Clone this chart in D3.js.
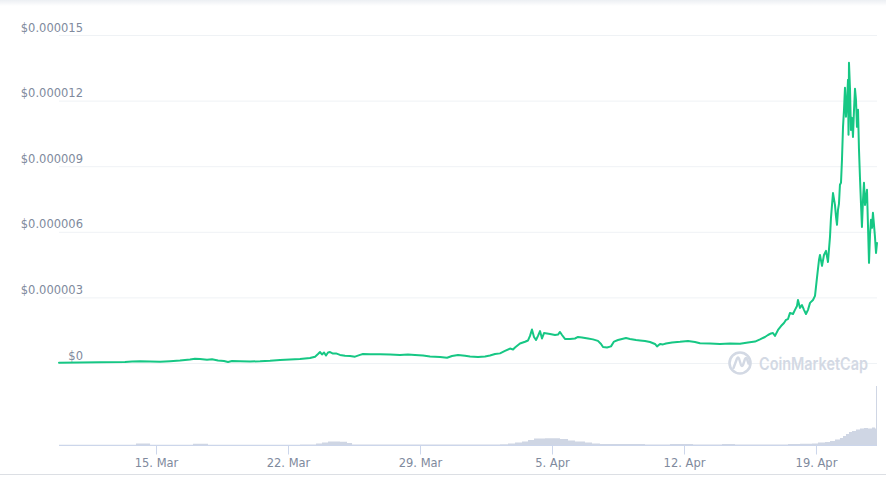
<!DOCTYPE html>
<html>
<head>
<meta charset="utf-8">
<script src="https://cdn.jsdelivr.net/npm/d3@7"></script>
<style>
  html, body { margin: 0; padding: 0; background: #ffffff; }
  svg { display: block; }
</style>
</head>
<body>
<svg id="chart" width="886" height="477"></svg>
<script>
// ---------- DATA ----------
const priceDates = [
  "2021-03-09T20:30","2021-03-10T23:00","2021-03-12T01:00","2021-03-13T08:30","2021-03-13T17:30",
  "2021-03-14T03:40","2021-03-14T16:25","2021-03-15T05:05","2021-03-15T17:50","2021-03-16T06:30",
  "2021-03-16T19:15","2021-03-17T01:35","2021-03-17T08:00","2021-03-17T16:55","2021-03-17T23:15",
  "2021-03-18T06:55","2021-03-18T14:30","2021-03-18T19:40","2021-03-19T00:40","2021-03-19T10:55",
  "2021-03-19T23:40","2021-03-20T12:25","2021-03-21T01:05","2021-03-21T13:50","2021-03-22T02:30",
  "2021-03-22T15:15","2021-03-23T04:00","2021-03-23T10:25","2021-03-23T14:10","2021-03-23T16:45",
  "2021-03-23T19:15","2021-03-23T21:50","2021-03-24T00:20","2021-03-24T02:55","2021-03-24T05:30",
  "2021-03-24T09:15","2021-03-24T13:05","2021-03-24T18:10","2021-03-25T00:30","2021-03-25T06:55",
  "2021-03-25T13:15","2021-03-25T19:40","2021-03-25T23:25","2021-03-26T08:25","2021-03-26T21:05",
  "2021-03-27T09:50","2021-03-27T22:30","2021-03-28T08:40","2021-03-28T17:35","2021-03-29T03:50",
  "2021-03-29T12:45","2021-03-30T01:30","2021-03-30T10:25","2021-03-30T16:45","2021-03-31T00:25",
  "2021-03-31T09:20","2021-03-31T15:40","2021-04-01T01:50","2021-04-01T10:45","2021-04-01T17:05",
  "2021-04-01T23:30","2021-04-02T05:50","2021-04-02T12:10","2021-04-02T18:30","2021-04-02T22:25",
  "2021-04-03T00:55","2021-04-03T07:15","2021-04-03T13:40","2021-04-03T17:30","2021-04-03T20:00",
  "2021-04-03T22:30","2021-04-04T01:05","2021-04-04T03:40","2021-04-04T06:10","2021-04-04T08:45",
  "2021-04-04T11:15","2021-04-04T13:50","2021-04-04T17:40","2021-04-04T21:30","2021-04-05T03:50",
  "2021-04-05T07:40","2021-04-05T10:10","2021-04-05T12:45","2021-04-05T16:30","2021-04-05T22:55",
  "2021-04-06T05:15","2021-04-06T09:05","2021-04-06T14:10","2021-04-06T21:50","2021-04-07T04:10",
  "2021-04-07T10:30","2021-04-07T14:25","2021-04-07T16:55","2021-04-07T22:00","2021-04-08T03:05",
  "2021-04-08T06:55","2021-04-08T12:00","2021-04-08T17:05","2021-04-08T22:10","2021-04-09T03:15",
  "2021-04-09T10:55","2021-04-09T16:00","2021-04-09T22:20","2021-04-10T04:45","2021-04-10T11:05",
  "2021-04-10T13:40","2021-04-10T17:30","2021-04-10T21:20","2021-04-11T01:05","2021-04-11T08:45",
  "2021-04-11T18:55","2021-04-12T05:05","2021-04-12T14:00","2021-04-12T20:20","2021-04-13T09:05",
  "2021-04-13T21:50","2021-04-14T10:30","2021-04-14T23:15","2021-04-15T09:30","2021-04-15T18:25",
  "2021-04-16T00:45","2021-04-16T07:05","2021-04-16T10:55","2021-04-16T14:45","2021-04-16T17:15",
  "2021-04-16T19:50","2021-04-16T23:40","2021-04-17T03:30","2021-04-17T07:15","2021-04-17T09:50",
  "2021-04-17T12:25","2021-04-17T14:55","2021-04-17T18:45","2021-04-17T21:15","2021-04-17T23:50",
  "2021-04-18T01:05","2021-04-18T03:40","2021-04-18T06:10","2021-04-18T08:45","2021-04-18T11:15",
  "2021-04-18T13:50","2021-04-18T16:25","2021-04-18T20:10","2021-04-18T22:45","2021-04-19T01:15",
  "2021-04-19T03:50","2021-04-19T05:05","2021-04-19T07:40","2021-04-19T10:10","2021-04-19T12:45",
  "2021-04-19T15:15","2021-04-19T17:50","2021-04-19T19:05","2021-04-19T20:25","2021-04-19T21:40",
  "2021-04-20T00:10","2021-04-20T01:30","2021-04-20T02:45","2021-04-20T04:00","2021-04-20T05:15",
  "2021-04-20T06:30","2021-04-20T07:50","2021-04-20T09:05","2021-04-20T10:25","2021-04-20T11:40",
  "2021-04-20T12:55","2021-04-20T14:10","2021-04-20T15:30","2021-04-20T16:45","2021-04-20T17:25",
  "2021-04-20T18:00","2021-04-20T19:20","2021-04-20T20:30","2021-04-20T21:50","2021-04-20T23:05",
  "2021-04-21T00:25","2021-04-21T01:40","2021-04-21T02:55","2021-04-21T04:10","2021-04-21T05:30",
  "2021-04-21T06:45","2021-04-21T08:00","2021-04-21T09:15","2021-04-21T10:30","2021-04-21T11:50",
  "2021-04-21T13:05","2021-04-21T14:25","2021-04-21T15:40","2021-04-21T16:55","2021-04-21T18:10",
  "2021-04-21T19:30","2021-04-21T20:45","2021-04-21T22:00","2021-04-21T23:15","2021-04-22T00:30",
  "2021-04-22T01:50","2021-04-22T03:05","2021-04-22T04:25","2021-04-22T05:40"
];
const prices = [
  0.01e-6,0.02e-6,0.03e-6,0.05e-6,0.07e-6,
  0.08e-6,0.07e-6,0.055e-6,0.08e-6,0.11e-6,
  0.16e-6,0.19e-6,0.18e-6,0.15e-6,0.17e-6,
  0.11e-6,0.09e-6,0.05e-6,0.09e-6,0.08e-6,
  0.07e-6,0.08e-6,0.10e-6,0.14e-6,0.16e-6,
  0.18e-6,0.23e-6,0.29e-6,0.41e-6,0.50e-6,
  0.39e-6,0.48e-6,0.34e-6,0.48e-6,0.50e-6,
  0.43e-6,0.44e-6,0.37e-6,0.33e-6,0.32e-6,
  0.29e-6,0.37e-6,0.41e-6,0.40e-6,0.40e-6,
  0.39e-6,0.37e-6,0.39e-6,0.37e-6,0.34e-6,
  0.30e-6,0.27e-6,0.24e-6,0.32e-6,0.37e-6,
  0.33e-6,0.30e-6,0.27e-6,0.30e-6,0.34e-6,
  0.41e-6,0.44e-6,0.55e-6,0.66e-6,0.62e-6,
  0.71e-6,0.89e-6,0.97e-6,1.03e-6,1.24e-6,
  1.53e-6,1.19e-6,1.05e-6,1.24e-6,1.46e-6,
  1.12e-6,1.37e-6,1.35e-6,1.33e-6,1.28e-6,
  1.30e-6,1.42e-6,1.28e-6,1.10e-6,1.10e-6,
  1.12e-6,1.19e-6,1.17e-6,1.12e-6,1.08e-6,
  1.01e-6,0.87e-6,0.73e-6,0.71e-6,0.76e-6,
  0.98e-6,1.05e-6,1.10e-6,1.14e-6,1.10e-6,
  1.05e-6,1.03e-6,1.01e-6,0.96e-6,0.87e-6,
  0.76e-6,0.87e-6,0.85e-6,0.89e-6,0.94e-6,
  0.97e-6,1.01e-6,0.96e-6,0.90e-6,0.89e-6,
  0.87e-6,0.89e-6,0.88e-6,0.94e-6,0.98e-6,
  1.08e-6,1.19e-6,1.28e-6,1.35e-6,1.37e-6,
  1.24e-6,1.51e-6,1.69e-6,1.83e-6,1.97e-6,
  2.01e-6,2.29e-6,2.24e-6,2.43e-6,2.61e-6,
  2.88e-6,2.52e-6,2.65e-6,2.43e-6,2.24e-6,
  2.43e-6,2.75e-6,2.88e-6,3.07e-6,3.89e-6,
  4.71e-6,4.94e-6,4.44e-6,4.94e-6,5.13e-6,
  4.62e-6,5.77e-6,6.64e-6,7.23e-6,7.77e-6,
  7.23e-6,6.68e-6,6.32e-6,7.00e-6,7.28e-6,
  8.15e-6,8.24e-6,9.29e-6,10.80e-6,11.58e-6,
  12.59e-6,11.26e-6,11.95e-6,12.95e-6,10.44e-6,
  13.73e-6,12.50e-6,10.66e-6,11.21e-6,10.34e-6,
  11.58e-6,12.54e-6,12.04e-6,10.80e-6,11.58e-6,
  9.75e-6,8.47e-6,7.32e-6,6.22e-6,7.46e-6,
  8.24e-6,7.23e-6,7.60e-6,7.92e-6,6.32e-6,
  4.58e-6,5.86e-6,6.55e-6,6.18e-6,6.87e-6,
  6.32e-6,5.77e-6,5.03e-6,5.49e-6
];

const volumeDates = [
  "2021-03-09T20:30","2021-03-13T15:00","2021-03-13T22:30","2021-03-14T16:25","2021-03-16T23:05",
  "2021-03-17T18:10","2021-03-22T15:15","2021-03-23T11:40","2021-03-23T19:15","2021-03-24T02:55",
  "2021-03-24T18:10","2021-03-25T03:05","2021-03-25T09:30","2021-04-02T05:50","2021-04-02T16:00",
  "2021-04-03T00:55","2021-04-03T09:50","2021-04-03T17:30","2021-04-04T01:05","2021-04-04T15:05",
  "2021-04-05T10:10","2021-04-05T20:25","2021-04-06T05:15","2021-04-06T18:00","2021-04-07T02:55",
  "2021-04-07T13:05","2021-04-09T22:20","2021-04-11T06:10","2021-04-12T11:30","2021-04-14T00:25",
  "2021-04-14T16:55","2021-04-17T12:25","2021-04-18T03:40","2021-04-18T18:55","2021-04-19T02:30",
  "2021-04-19T11:30","2021-04-19T17:50","2021-04-20T00:10","2021-04-20T06:30","2021-04-20T10:25",
  "2021-04-20T14:10","2021-04-20T18:00","2021-04-20T21:50","2021-04-21T02:55","2021-04-21T08:00",
  "2021-04-21T13:05","2021-04-21T18:10","2021-04-21T23:15","2021-04-22T03:05","2021-04-22T04:25",
  "2021-04-22T05:40"
];
// volume, millions USD
const volumes = [
  3,3,15,3,12,
  3,5,15,25,35,
  32,20,5,7,15,
  25,35,50,65,67,
  60,45,35,25,15,
  10,5,10,5,10,
  5,10,12,15,25,
  30,40,55,70,90,
  110,130,140,155,165,
  170,165,175,165,590,
  590
];

const yTickValues = [0, 0.000003, 0.000006, 0.000009, 0.000012, 0.000015];
const yTickLabels = ["$0", "$0.000003", "$0.000006", "$0.000009", "$0.000012", "$0.000015"];
const xTickDates = ["2021-03-15", "2021-03-22", "2021-03-29", "2021-04-05", "2021-04-12", "2021-04-19"];
const xTickLabels = ["15. Mar", "22. Mar", "29. Mar", "5. Apr", "12. Apr", "19. Apr"];
const watermarkText = "CoinMarketCap";

// ---------- CHART ----------
const parse = d3.timeParse("%Y-%m-%dT%H:%M");
const parseDay = d3.timeParse("%Y-%m-%d");
const priceData = priceDates.map((d, i) => ({ t: parse(d), v: prices[i] }));
const volData = volumeDates.map((d, i) => ({ t: parse(d), v: volumes[i] }));

const svg = d3.select("#chart");
const W = 886, H = 477;
const left = 59, right = 877;

const x = d3.scaleTime()
  .domain([priceData[0].t, priceData[priceData.length - 1].t])
  .range([left, right]);
const y = d3.scaleLinear().domain([0, 0.000015]).range([363, 35]);
const yv = d3.scaleLinear().domain([0, d3.max(volumes)]).range([445, 386]);

// top faint shadow
const defs = svg.append("defs");
const grad = defs.append("linearGradient").attr("id", "topShade")
  .attr("x1", 0).attr("y1", 0).attr("x2", 0).attr("y2", 1);
grad.append("stop").attr("offset", "0%").attr("stop-color", "#eceff3");
grad.append("stop").attr("offset", "100%").attr("stop-color", "#ffffff");
svg.append("rect").attr("x", 0).attr("y", 0).attr("width", W).attr("height", 6)
  .attr("fill", "url(#topShade)");

// gridlines + y labels
const yAxis = d3.axisLeft(y)
  .tickValues(yTickValues)
  .tickSize(-(right - left))
  .tickFormat((d, i) => yTickLabels[i]);
const gy = svg.append("g").attr("transform", `translate(${left},0)`).call(yAxis);
gy.select(".domain").remove();
gy.selectAll(".tick line").attr("stroke", "#eff2f5").attr("stroke-width", 1);
gy.selectAll(".tick text")
  .attr("x", 24).attr("dy", "-4")
  .attr("text-anchor", "end")
  .attr("fill", "#808a9d")
  .style("font-family", "'DejaVu Sans', sans-serif")
  .style("font-size", "11.5px");

// watermark
const wm = svg.append("g").attr("opacity", 1);
wm.append("circle").attr("cx", 740).attr("cy", 363).attr("r", 10.5)
  .attr("fill", "#ffffff").attr("stroke", "#d3d9e4").attr("stroke-width", 2.6);
wm.append("path")
  .attr("d", "M733.5,368 L737,358.5 Q738,356.5 739,358.5 L741,365 Q742,367 743,365 L745,359 Q746,357 747,359 L748.5,363.5")
  .attr("fill", "none").attr("stroke", "#d3d9e4").attr("stroke-width", 2.4)
  .attr("stroke-linecap", "round").attr("stroke-linejoin", "round");
wm.append("text").attr("x", 759).attr("y", 369.5)
  .attr("textLength", 109).attr("lengthAdjust", "spacingAndGlyphs")
  .attr("fill", "#d3d9e4")
  .style("font-family", "Inter, 'Open Sans', sans-serif")
  .style("font-weight", "600")
  .style("font-size", "17px")
  .text(watermarkText);

// volume
const area = d3.area()
  .x(d => x(d.t)).y0(yv(0)).y1(d => yv(d.v))
  .curve(d3.curveStepAfter);
svg.append("path").datum(volData)
  .attr("d", area)
  .attr("fill", "#cfd6e4");

// price line
const line = d3.line().x(d => x(d.t)).y(d => y(d.v));
svg.append("path").datum(priceData)
  .attr("d", line)
  .attr("fill", "none")
  .attr("stroke", "#16c784")
  .attr("stroke-width", 2)
  .attr("stroke-linejoin", "round")
  .attr("stroke-linecap", "round");

// x axis
const xAxis = d3.axisBottom(x)
  .tickValues(xTickDates.map(parseDay))
  .tickSize(9)
  .tickPadding(4)
  .tickFormat((d, i) => xTickLabels[i]);
const gx = svg.append("g").attr("transform", "translate(0,445.5)").call(xAxis);
gx.select(".domain").attr("stroke", "#ccd6eb").attr("d", `M${left},0H${right}`);
gx.selectAll(".tick line").attr("stroke", "#ccd6eb");
gx.selectAll(".tick text")
  .attr("fill", "#808a9d")
  .style("font-family", "'DejaVu Sans', sans-serif")
  .style("font-size", "11.5px");

// bottom border
svg.append("line").attr("x1", 0).attr("x2", W).attr("y1", 474.5).attr("y2", 474.5)
  .attr("stroke", "#dcdfe4").attr("stroke-width", 1);
</script>
</body>
</html>
